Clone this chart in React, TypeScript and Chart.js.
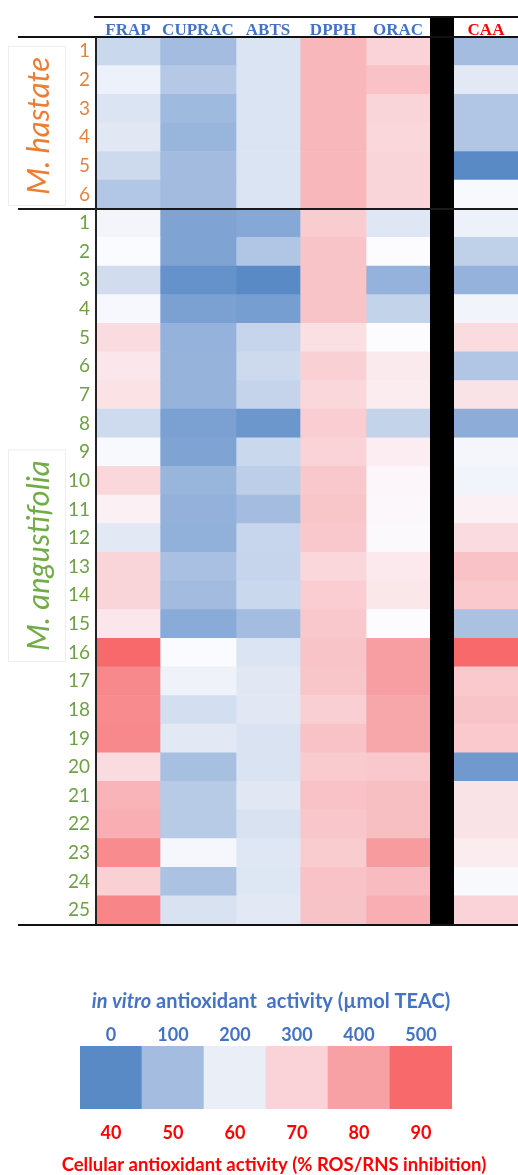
import React, { useEffect, useRef } from 'react';
import { Chart, registerables } from 'chart.js';

Chart.register(...registerables);

// ---- data -------------------------------------------------------------
const assayNames = ['FRAP', 'CUPRAC', 'ABTS', 'DPPH', 'ORAC'];
const cellAssayName = 'CAA';

const hastateRows = ['1', '2', '3', '4', '5', '6'];
const angustifoliaRows = [
  '1', '2', '3', '4', '5', '6', '7', '8', '9', '10', '11', '12', '13',
  '14', '15', '16', '17', '18', '19', '20', '21', '22', '23', '24', '25',
];

// in vitro assays, µmol TEAC (M. hastate 1–6, then M. angustifolia 1–25)
const frap = [
  155, 210, 180, 188, 160, 122,
  225, 245, 165, 235, 290, 275, 282, 162, 240, 295, 265, 190, 297, 297, 275,
  500, 445, 440, 445, 290, 362, 375, 440, 305, 450,
];
const cuprac = [
  100, 125, 95, 85, 98, 98,
  50, 50, 15, 45, 80, 82, 82, 45, 50, 85, 78, 75, 108, 98, 65,
  245, 215, 168, 190, 105, 128, 128, 232, 112, 175,
];
const abts = [
  180, 180, 180, 180, 180, 180,
  60, 120, 0, 40, 150, 160, 148, 25, 155, 135, 100, 152, 150, 155, 100,
  180, 188, 188, 178, 178, 188, 175, 185, 183, 190,
];
const dpph = [
  356, 356, 356, 356, 356, 356,
  315, 330, 330, 330, 285, 305, 295, 312, 300, 322, 328, 322, 295, 312, 322,
  330, 328, 308, 335, 318, 335, 325, 315, 335, 332,
];
const orac = [
  300, 335, 298, 295, 298, 298,
  185, 250, 80, 145, 250, 272, 270, 145, 268, 258, 256, 254, 273, 276, 250,
  405, 405, 390, 390, 322, 340, 340, 410, 348, 375,
];
// cellular antioxidant activity, % ROS/RNS inhibition
const caa = [
  50, 59, 52, 52, 40, 64,
  61, 54, 48, 62, 69, 52, 68, 47, 63, 62, 66.5, 69, 73.5, 72, 51,
  90, 72, 73, 72, 43, 68, 68, 67, 64, 70,
];

const teacTicks = [0, 100, 200, 300, 400, 500];
const caaTicks = [40, 50, 60, 70, 80, 90];

// ---- layout & style ---------------------------------------------------
const W = 518;
const PAGE_H = 1175;
const MAIN_H = 940;
const HEADER_TOP = 16;
const HEADER_H = 37;
const ROW_AXIS_W = 96;
const HEAT_BOTTOM = 926;
const LEGEND_TOP = 960;
const LEGEND_H = 215;

// column widths on the x scale: five in vitro assays, separator, CAA
const columnWidths = [64, 76, 64, 66, 64, 24, 64];
const columnEdges = columnWidths.reduce((acc, w) => [...acc, acc[acc.length - 1] + w], [0]);
const colCenter = (i: number) => (columnEdges[i] + columnEdges[i + 1]) / 2;
const SEP = 5;
const CAA_COL = 6;

const BLUE_TEXT = '#4472C4';
const RED_TEXT = '#FF0000';
const ORANGE = '#ED7D31';
const GREEN = '#70AD47';
const ORANGE_NUM = '#DE8541';
const GREEN_NUM = '#6FA046';
const SANS = 'Lato, "Open Sans", sans-serif';
const SERIF = '"Liberation Serif", "Times New Roman", serif';

// blue – white – red colour ramp
const rampStops = [0, 0.2, 0.4, 0.5, 0.6, 0.8, 1];
const rampColors = [
  [90, 138, 198],
  [163, 188, 224],
  [233, 238, 247],
  [252, 252, 255],
  [249, 211, 215],
  [247, 161, 165],
  [248, 105, 107],
];
function ramp(v: number, lo: number, hi: number): string {
  let t = (v - lo) / (hi - lo);
  t = Math.max(0, Math.min(1, t));
  let k = 0;
  while (k < rampStops.length - 2 && t > rampStops[k + 1]) k++;
  const f = (t - rampStops[k]) / (rampStops[k + 1] - rampStops[k]);
  const a = rampColors[k];
  const b = rampColors[k + 1];
  const c = a.map((x, j) => Math.round(x + (b[j] - x) * f));
  return `rgb(${c[0]},${c[1]},${c[2]})`;
}
const teacColor = (v: number) => ramp(v, teacTicks[0], teacTicks[teacTicks.length - 1]);
const caaColor = (v: number) => ramp(v, caaTicks[0], caaTicks[caaTicks.length - 1]);

const groups = [
  { name: 'M. hastate', count: hastateRows.length, color: ORANGE, shift: 3 },
  { name: 'M. angustifolia', count: angustifoliaRows.length, color: GREEN, shift: -11 },
];

// ---- drawing helpers --------------------------------------------------
const frame = {
  id: 'frame',
  afterDraw(chart: any) {
    const { ctx, chartArea: a, scales } = chart;
    const x = scales.x;
    const y = scales.y;
    ctx.save();

    // separator column between in vitro assays and CAA
    const sx0 = x.getPixelForValue(columnEdges[SEP]);
    const sx1 = x.getPixelForValue(columnEdges[SEP + 1]);
    ctx.fillStyle = '#000';
    ctx.fillRect(sx0, HEADER_TOP, sx1 - sx0, a.bottom - HEADER_TOP);

    const hline = (yy: number, x0: number, x1: number, color: string) => {
      ctx.fillStyle = color;
      ctx.fillRect(x0, Math.round(yy) - 1, x1 - x0, 2);
    };
    hline(HEADER_TOP + 1, a.left - 2, chart.width, '#111');
    hline(a.top, 18, chart.width, '#111');
    hline(y.getPixelForValue(hastateRows.length - 0.5), 18, chart.width, '#1a1a1a');
    hline(a.bottom, 18, chart.width, '#111');

    // left rule of the heat map
    ctx.fillStyle = '#222';
    ctx.fillRect(a.left - 1, a.top, 2, a.bottom - a.top);

    // rotated species labels
    let start = 0;
    groups.forEach((g) => {
      const top = y.getPixelForValue(start - 0.5);
      const bottom = y.getPixelForValue(start + g.count - 0.5);
      const cy = (top + bottom) / 2 + g.shift;
      ctx.font = `italic 31px ${SANS}`;
      const tw = ctx.measureText(g.name).width;
      ctx.strokeStyle = 'rgba(0,0,0,0.07)';
      ctx.lineWidth = 1;
      ctx.strokeRect(8.5, cy - tw / 2 - 10.5, 57, tw + 21);
      ctx.translate(39, cy);
      ctx.rotate(-Math.PI / 2);
      ctx.fillStyle = g.color;
      ctx.textAlign = 'center';
      ctx.textBaseline = 'middle';
      ctx.fillText(g.name, 0, 0);
      ctx.setTransform(1, 0, 0, 1, 0, 0);
      start += g.count;
    });
    ctx.restore();
  },
};

const legendTitles = {
  id: 'legendTitles',
  afterDraw(chart: any) {
    const { ctx, chartArea: a } = chart;
    const cx = (a.left + a.right) / 2 + 5;
    ctx.save();
    ctx.textBaseline = 'middle';
    ctx.textAlign = 'left';

    const part1 = 'in vitro';
    const part2 = ' antioxidant  activity (µmol TEAC)';
    ctx.font = `italic bold 20px ${SANS}`;
    const w1 = ctx.measureText(part1).width;
    ctx.font = `bold 20px ${SANS}`;
    const w2 = ctx.measureText(part2).width;
    const x0 = cx - (w1 + w2) / 2;
    ctx.fillStyle = BLUE_TEXT;
    ctx.font = `italic bold 20px ${SANS}`;
    ctx.fillText(part1, x0, 42);
    ctx.font = `bold 20px ${SANS}`;
    ctx.fillText(part2, x0 + w1, 42);

    ctx.fillStyle = RED_TEXT;
    ctx.textAlign = 'center';
    ctx.font = `bold 18.5px ${SANS}`;
    ctx.fillText('Cellular antioxidant activity (% ROS/RNS inhibition)', cx + 3, 205);
    ctx.restore();
  },
};

export default function App() {
  const mainRef = useRef<HTMLCanvasElement>(null);
  const legendRef = useRef<HTMLCanvasElement>(null);

  useEffect(() => {
    document.body.style.margin = '0';
    const rowLabels = [...hastateRows, ...angustifoliaRows];
    const inVitro = [frap, cuprac, abts, dpph, orac];
    const barStyle = {
      barPercentage: 1,
      categoryPercentage: 1,
      grouped: false,
      borderWidth: 0,
      borderSkipped: false,
    };
    const datasets: any[] = inVitro.map((vals, i) => ({
      label: assayNames[i],
      data: vals.map(() => [columnEdges[i], columnEdges[i + 1]]),
      backgroundColor: vals.map(teacColor),
      ...barStyle,
    }));
    datasets.push({
      label: cellAssayName,
      data: caa.map(() => [columnEdges[CAA_COL], columnEdges[CAA_COL + 1]]),
      backgroundColor: caa.map(caaColor),
      ...barStyle,
    });

    const headerNames = [...assayNames, cellAssayName];
    const headerCenters = [0, 1, 2, 3, 4, CAA_COL].map(colCenter);

    const main = new Chart(mainRef.current as HTMLCanvasElement, {
      type: 'bar',
      data: { labels: rowLabels, datasets },
      options: {
        indexAxis: 'y',
        responsive: false,
        animation: false,
        devicePixelRatio: 1,
        layout: { padding: { left: 0, right: 0, top: 0, bottom: MAIN_H - HEAT_BOTTOM } },
        plugins: { legend: { display: false }, tooltip: { enabled: false } },
        scales: {
          x: {
            type: 'linear',
            position: 'top',
            min: 0,
            max: columnEdges[columnEdges.length - 1],
            grid: { display: false, drawTicks: false },
            border: { display: false },
            afterFit: (s: any) => { s.height = HEADER_H; },
            afterBuildTicks: (s: any) => { s.ticks = headerCenters.map((value) => ({ value })); },
            ticks: {
              autoSkip: false,
              maxRotation: 0,
              minRotation: 0,
              padding: -2,
              callback: (_v: any, i: number) => headerNames[i],
              color: (c: any) => (c.index === headerNames.length - 1 ? RED_TEXT : BLUE_TEXT),
              font: { family: SERIF, size: 17, weight: 'bold', lineHeight: 1 },
            },
          },
          y: {
            type: 'category',
            position: 'left',
            grid: { display: false, drawTicks: false },
            border: { display: false },
            afterFit: (s: any) => { s.width = ROW_AXIS_W; },
            ticks: {
              autoSkip: false,
              padding: 6,
              color: (c: any) => (c.index < hastateRows.length ? ORANGE_NUM : GREEN_NUM),
              font: { family: SANS, size: 19, lineHeight: 1 },
            },
          },
        },
      } as any,
      plugins: [frame],
    });

    const legend = new Chart(legendRef.current as HTMLCanvasElement, {
      type: 'bar',
      data: {
        labels: teacTicks.map(String),
        datasets: [
          {
            data: teacTicks.map(() => 1),
            backgroundColor: teacTicks.map(teacColor),
            barPercentage: 1,
            categoryPercentage: 1,
            borderWidth: 0,
          },
        ],
      },
      options: {
        responsive: false,
        animation: false,
        devicePixelRatio: 1,
        layout: { padding: { left: 80, right: 66, top: 0, bottom: 0 } },
        plugins: { legend: { display: false }, tooltip: { enabled: false } },
        scales: {
          x: {
            type: 'category',
            position: 'top',
            offset: true,
            grid: { display: false, drawTicks: false },
            border: { display: false },
            afterFit: (s: any) => { s.height = 86; },
            ticks: {
              padding: 2,
              color: BLUE_TEXT,
              font: { family: SANS, size: 18, weight: 'bold', lineHeight: 1 },
            },
          },
          x2: {
            type: 'category',
            labels: caaTicks.map(String),
            position: 'bottom',
            offset: true,
            grid: { display: false, drawTicks: false },
            border: { display: false },
            afterFit: (s: any) => { s.height = 66; },
            ticks: {
              padding: 15,
              color: RED_TEXT,
              font: { family: SANS, size: 18, weight: 'bold', lineHeight: 1 },
            },
          },
          y: { display: false, min: 0, max: 1 },
        },
      } as any,
      plugins: [legendTitles],
    });

    return () => {
      main.destroy();
      legend.destroy();
    };
  }, []);

  return (
    <div style={{ position: 'relative', width: W, height: PAGE_H, overflow: 'hidden', background: '#fff' }}>
      <canvas
        ref={mainRef}
        width={W}
        height={MAIN_H}
        style={{ position: 'absolute', left: 0, top: 0, width: W, height: MAIN_H, display: 'block' }}
      />
      <canvas
        ref={legendRef}
        width={W}
        height={LEGEND_H}
        style={{ position: 'absolute', left: 0, top: LEGEND_TOP, width: W, height: LEGEND_H, display: 'block' }}
      />
    </div>
  );
}
